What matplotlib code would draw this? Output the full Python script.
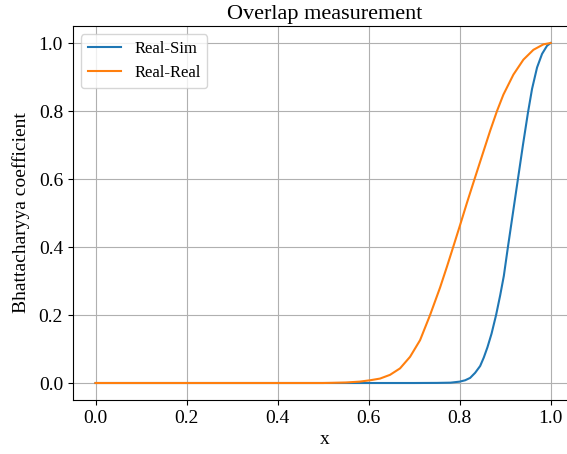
import matplotlib.pyplot as plt

plt.rcParams['font.family'] = ['Liberation Serif', 'DejaVu Serif']

# Bhattacharyya coefficient vs x, real vs simulated and real vs real
x_sim = [0.0, 0.1, 0.2, 0.3, 0.4, 0.5, 0.6, 0.7, 0.75, 0.78, 0.80, 0.812,
         0.823, 0.834, 0.845, 0.853, 0.861, 0.870, 0.880, 0.889, 0.897,
         0.906, 0.917, 0.928, 0.939, 0.950, 0.959, 0.970, 0.981, 0.992, 1.0]
y_sim = [0.0, 0.0, 0.0, 0.0, 0.0, 0.0, 0.0, 0.0, 0.0003, 0.001, 0.004, 0.008,
         0.015, 0.030, 0.050, 0.075, 0.105, 0.145, 0.200, 0.258, 0.315,
         0.400, 0.500, 0.600, 0.700, 0.795, 0.865, 0.928, 0.968, 0.992, 1.0]

x_real = [0.0, 0.1, 0.2, 0.3, 0.4, 0.5, 0.52, 0.55, 0.58, 0.603, 0.625,
          0.647, 0.669, 0.691, 0.713, 0.735, 0.757, 0.772, 0.786, 0.801,
          0.816, 0.832, 0.852, 0.867, 0.882, 0.896, 0.918, 0.940, 0.962,
          0.984, 1.0]
y_real = [0.0, 0.0, 0.0, 0.0, 0.0, 0.0, 0.0005, 0.0015, 0.004, 0.008, 0.013,
          0.024, 0.043, 0.077, 0.126, 0.200, 0.281, 0.342, 0.401, 0.465,
          0.530, 0.597, 0.680, 0.742, 0.800, 0.848, 0.907, 0.951, 0.980,
          0.996, 1.0]

fig = plt.figure(figsize=(5.67, 4.54), dpi=100)
ax = fig.add_axes([72.75 / 567, 54 / 454, 503 / 567, 374 / 454])

ax.plot(x_sim, y_sim, color='#1f77b4', lw=1.5, label='Real-Sim')
ax.plot(x_real, y_real, color='#ff7f0e', lw=1.5, label='Real-Real')

ax.set_xlim(-0.05, 1.055)
ax.set_ylim(-0.05, 1.05)
ax.set_xticks([0.0, 0.2, 0.4, 0.6, 0.8, 1.0])
ax.set_yticks([0.0, 0.2, 0.4, 0.6, 0.8, 1.0])
ax.tick_params(labelsize=14)
ax.grid(True)
ax.spines['right'].set_visible(False)

ax.set_title('Overlap measurement', fontsize=16, pad=5)
ax.set_xlabel('x', fontsize=14, labelpad=3)
ax.set_ylabel('Bhattacharyya coefficient', fontsize=14, labelpad=6)
ax.legend(loc='upper left', fontsize=12)

fig.savefig('out.png', dpi=100)
